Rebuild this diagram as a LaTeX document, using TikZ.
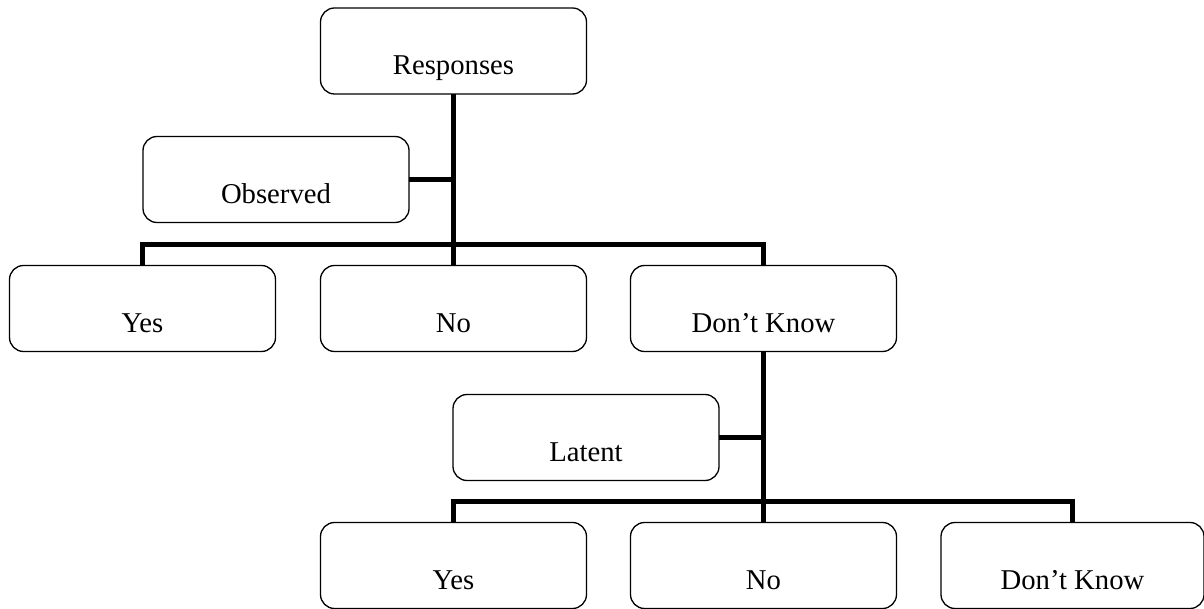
\documentclass[tikz,border=0pt]{standalone}
\usepackage{fontspec}
\setmainfont{Liberation Serif}
\begin{document}
\begin{tikzpicture}[x=1pt,y=-1pt,
  box/.style={draw=black,line width=1.3pt,rounded corners=14pt,minimum width=266pt,minimum height=86pt,inner sep=0pt,outer sep=0pt},
  txt/.style={font=\fontsize{28.7}{30}\selectfont},
  conn/.style={draw=black,line width=5pt,line join=miter}]
\useasboundingbox (0,0) rectangle (1204,609);
\node[box,label={[txt,anchor=base,yshift=19pt]south:Responses}] (resp) at (453.5,51) {};
\node[box,label={[txt,anchor=base,yshift=19pt]south:Observed}] (obs) at (276,179.5) {};
\node[box,label={[txt,anchor=base,yshift=19pt]south:Yes}] (yes1) at (142.5,308.5) {};
\node[box,label={[txt,anchor=base,yshift=19pt]south:No}] (no1) at (453.5,308.5) {};
\node[box,label={[txt,anchor=base,yshift=19pt]south:Don’t Know}] (dk1) at (763.5,308.5) {};
\node[box,label={[txt,anchor=base,yshift=19pt]south:Latent}] (lat) at (586,437.5) {};
\node[box,label={[txt,anchor=base,yshift=19pt]south:Yes}] (yes2) at (453.5,565.5) {};
\node[box,label={[txt,anchor=base,yshift=19pt]south:No}] (no2) at (763.5,565.5) {};
\node[box,minimum width=263pt,label={[txt,anchor=base,yshift=19pt]south:Don’t Know}] (dk2) at (1072.5,565.5) {};
\coordinate (j1) at (453.5,245);
\coordinate (j2) at (763.5,501);
\draw[conn] (yes1.north) |- (j1) -| (dk1.north);
\draw[conn] (resp.south) -- (no1.north);
\draw[conn] (obs.east) -- (obs.east -| j1);
\draw[conn] (dk1.south) -- (no2.north);
\draw[conn] (yes2.north) |- (j2) -| (dk2.north);
\draw[conn] (lat.east) -- (lat.east -| j2);
\end{tikzpicture}
\end{document}
